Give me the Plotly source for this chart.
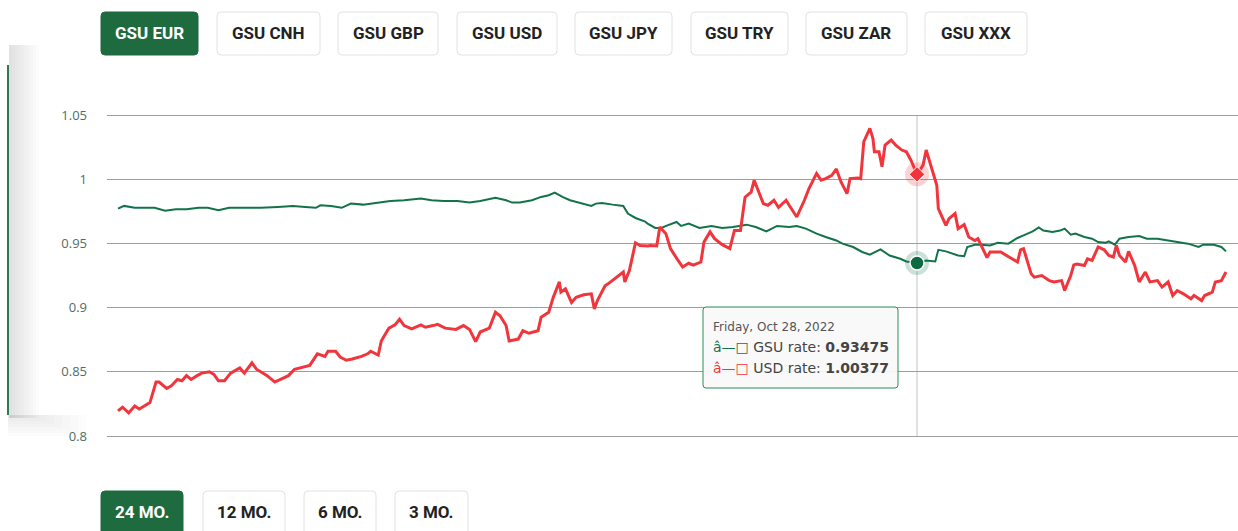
import plotly.graph_objects as go

# ---------------- data ----------------
usd_dates = [
    "2021-05-21", "2021-05-24", "2021-05-28", "2021-06-01", "2021-06-04", "2021-06-09", "2021-06-11", "2021-06-15", "2021-06-17", "2021-06-22",
    "2021-06-25", "2021-06-29", "2021-07-02", "2021-07-05", "2021-07-08", "2021-07-12", "2021-07-15", "2021-07-20", "2021-07-23", "2021-07-26",
    "2021-07-30", "2021-08-03", "2021-08-09", "2021-08-12", "2021-08-17", "2021-08-20", "2021-08-27", "2021-09-01", "2021-09-06", "2021-09-10",
    "2021-09-14", "2021-09-20", "2021-09-24", "2021-09-29", "2021-10-04", "2021-10-06", "2021-10-11", "2021-10-14", "2021-10-18", "2021-10-22",
    "2021-10-28", "2021-11-01", "2021-11-03", "2021-11-08", "2021-11-10", "2021-11-12", "2021-11-15", "2021-11-19", "2021-11-22", "2021-11-25",
    "2021-11-30", "2021-12-06", "2021-12-09", "2021-12-14", "2021-12-17", "2021-12-22", "2021-12-29", "2022-01-03", "2022-01-07", "2022-01-11",
    "2022-01-14", "2022-01-20", "2022-01-24", "2022-01-27", "2022-01-31", "2022-02-02", "2022-02-08", "2022-02-11", "2022-02-15", "2022-02-21",
    "2022-02-23", "2022-02-28", "2022-03-03", "2022-03-07", "2022-03-08", "2022-03-11", "2022-03-15", "2022-03-18", "2022-03-23", "2022-03-28",
    "2022-03-30", "2022-04-01", "2022-04-06", "2022-04-08", "2022-04-12", "2022-04-18", "2022-04-19", "2022-04-22", "2022-04-26", "2022-04-29",
    "2022-05-04", "2022-05-06", "2022-05-10", "2022-05-12", "2022-05-16", "2022-05-19", "2022-05-24", "2022-05-27", "2022-05-31", "2022-06-03",
    "2022-06-08", "2022-06-10", "2022-06-14", "2022-06-17", "2022-06-22", "2022-06-27", "2022-06-30", "2022-07-04", "2022-07-07", "2022-07-11",
    "2022-07-13", "2022-07-15", "2022-07-19", "2022-07-22", "2022-07-26", "2022-07-29", "2022-08-03", "2022-08-05", "2022-08-10", "2022-08-15",
    "2022-08-18", "2022-08-23", "2022-08-26", "2022-08-29", "2022-09-02", "2022-09-05", "2022-09-08", "2022-09-12", "2022-09-14", "2022-09-19",
    "2022-09-21", "2022-09-23", "2022-09-27", "2022-09-29", "2022-09-30", "2022-10-03", "2022-10-05", "2022-10-07", "2022-10-11", "2022-10-14",
    "2022-10-18", "2022-10-21", "2022-10-24", "2022-10-28", "2022-11-01", "2022-11-03", "2022-11-07", "2022-11-10", "2022-11-11", "2022-11-16",
    "2022-11-18", "2022-11-22", "2022-11-24", "2022-11-28", "2022-12-01", "2022-12-05", "2022-12-07", "2022-12-09", "2022-12-13", "2022-12-15",
    "2022-12-22", "2022-12-28", "2023-01-02", "2023-01-04", "2023-01-06", "2023-01-11", "2023-01-13", "2023-01-18", "2023-01-23", "2023-01-26",
    "2023-01-31", "2023-02-02", "2023-02-06", "2023-02-08", "2023-02-10", "2023-02-15", "2023-02-17", "2023-02-20", "2023-02-24", "2023-02-28",
    "2023-03-03", "2023-03-06", "2023-03-08", "2023-03-10", "2023-03-14", "2023-03-16", "2023-03-20", "2023-03-23", "2023-03-27", "2023-03-30",
    "2023-04-04", "2023-04-07", "2023-04-11", "2023-04-14", "2023-04-17", "2023-04-21", "2023-04-26", "2023-04-28", "2023-05-03", "2023-05-05",
    "2023-05-10", "2023-05-12", "2023-05-16", "2023-05-19",
]
usd_rate = [
    0.8195, 0.8224, 0.818, 0.8234, 0.821, 0.825, 0.826, 0.842, 0.842, 0.837,
    0.839, 0.844, 0.843, 0.847, 0.844, 0.847, 0.849, 0.850, 0.848, 0.843,
    0.843, 0.849, 0.853, 0.849, 0.857, 0.852, 0.847, 0.842, 0.845, 0.847,
    0.852, 0.854, 0.855, 0.864, 0.862, 0.866, 0.866, 0.8615, 0.859, 0.860,
    0.862, 0.864, 0.866, 0.863, 0.874, 0.878, 0.884, 0.8865, 0.891, 0.886,
    0.8834, 0.8865, 0.8847, 0.886, 0.887, 0.884, 0.883, 0.886, 0.883, 0.8735,
    0.881, 0.884, 0.8964, 0.8937, 0.886, 0.874, 0.8755, 0.882, 0.880, 0.882,
    0.8925, 0.8964, 0.908, 0.920, 0.912, 0.9146, 0.904, 0.908, 0.910, 0.9107,
    0.899, 0.9055, 0.917, 0.9185, 0.9224, 0.9277, 0.920, 0.9289, 0.9505, 0.9484,
    0.948, 0.9484, 0.948, 0.9628, 0.9576, 0.9459, 0.9367, 0.9316, 0.9345, 0.933,
    0.9355, 0.951, 0.959, 0.9537, 0.949, 0.9459, 0.960, 0.960, 0.986, 0.990,
    0.9992, 0.9927, 0.981, 0.9797, 0.9836, 0.978, 0.9836, 0.9797, 0.9706, 0.9836,
    0.9927, 1.0045, 0.9992, 1.0005, 1.003, 1.008, 0.998, 0.9888, 1.0005, 1.001,
    1.0005, 1.029, 1.0396, 1.0318, 1.0214, 1.0214, 1.0097, 1.0266, 1.0305, 1.0266,
    1.0227, 1.0214, 1.0148, 1.00377, 1.011, 1.0227, 1.008, 0.9953, 0.977, 0.964,
    0.9693, 0.9732, 0.9615, 0.9647, 0.955, 0.9523, 0.9537, 0.949, 0.939, 0.9433,
    0.9433, 0.939, 0.9355, 0.945, 0.9459, 0.9263, 0.9237, 0.925, 0.921, 0.920,
    0.921, 0.9133, 0.925, 0.9333, 0.934, 0.9328, 0.938, 0.9367, 0.9472, 0.945,
    0.9406, 0.9394, 0.9484, 0.9406, 0.9355, 0.9438, 0.9328, 0.920, 0.9277, 0.920,
    0.921, 0.916, 0.920, 0.9094, 0.9133, 0.9107, 0.9068, 0.9094, 0.9055, 0.9094,
    0.912, 0.920, 0.921, 0.9277,
]

gsu_dates = [
    "2021-05-21", "2021-05-25", "2021-06-01", "2021-06-09", "2021-06-14", "2021-06-21", "2021-06-28", "2021-07-05", "2021-07-13", "2021-07-19",
    "2021-07-26", "2021-08-02", "2021-08-12", "2021-08-23", "2021-09-03", "2021-09-13", "2021-09-21", "2021-09-28", "2021-10-01", "2021-10-08",
    "2021-10-15", "2021-10-21", "2021-10-29", "2021-11-10", "2021-11-16", "2021-11-25", "2021-12-06", "2021-12-13", "2021-12-21", "2021-12-30",
    "2022-01-07", "2022-01-14", "2022-01-24", "2022-01-31", "2022-02-04", "2022-02-09", "2022-02-17", "2022-02-23", "2022-02-28", "2022-03-04",
    "2022-03-09", "2022-03-14", "2022-03-18", "2022-03-23", "2022-03-28", "2022-03-31", "2022-04-04", "2022-04-11", "2022-04-18", "2022-04-21",
    "2022-04-26", "2022-05-02", "2022-05-04", "2022-05-09", "2022-05-13", "2022-05-17", "2022-05-23", "2022-05-26", "2022-05-31", "2022-06-07",
    "2022-06-15", "2022-06-22", "2022-06-29", "2022-07-08", "2022-07-14", "2022-07-21", "2022-07-28", "2022-08-05", "2022-08-10", "2022-08-16",
    "2022-08-23", "2022-08-29", "2022-09-05", "2022-09-09", "2022-09-16", "2022-09-22", "2022-09-27", "2022-10-04", "2022-10-10", "2022-10-17",
    "2022-10-21", "2022-10-28", "2022-11-03", "2022-11-09", "2022-11-11", "2022-11-16", "2022-11-21", "2022-11-24", "2022-11-28", "2022-11-30",
    "2022-12-05", "2022-12-09", "2022-12-15", "2022-12-20", "2022-12-27", "2023-01-02", "2023-01-06", "2023-01-12", "2023-01-16", "2023-01-19",
    "2023-01-25", "2023-01-30", "2023-02-02", "2023-02-06", "2023-02-09", "2023-02-15", "2023-02-20", "2023-02-24", "2023-03-01", "2023-03-03",
    "2023-03-07", "2023-03-10", "2023-03-16", "2023-03-23", "2023-03-28", "2023-04-04", "2023-04-11", "2023-04-17", "2023-04-24", "2023-05-01",
    "2023-05-04", "2023-05-11", "2023-05-16", "2023-05-19",
]
gsu_rate = [
    0.9771, 0.9792, 0.9777, 0.978, 0.9777, 0.9755, 0.9766, 0.9766, 0.9777, 0.9777,
    0.9758, 0.9777, 0.9777, 0.9777, 0.9784, 0.9792, 0.9784, 0.9777, 0.9797, 0.9792,
    0.9777, 0.981, 0.9802, 0.9823, 0.9831, 0.9836, 0.985, 0.9836, 0.983, 0.983,
    0.9818, 0.983, 0.9855, 0.9836, 0.9818, 0.9818, 0.9836, 0.9862, 0.9875, 0.9896,
    0.9862, 0.9836, 0.9823, 0.981, 0.9792, 0.981, 0.9815, 0.9802, 0.9792, 0.9732,
    0.9698, 0.9672, 0.9654, 0.962, 0.962, 0.964, 0.9667, 0.9636, 0.9654, 0.962,
    0.9636, 0.962, 0.9628, 0.9646, 0.9628, 0.9594, 0.9636, 0.9628, 0.9636, 0.9615,
    0.9576, 0.955, 0.9523, 0.9498, 0.9472, 0.9433, 0.9412, 0.9453, 0.9406, 0.938,
    0.9359, 0.93475, 0.9367, 0.936, 0.945, 0.9438, 0.942, 0.9406, 0.94, 0.9472,
    0.949, 0.949, 0.9484, 0.9505, 0.9498, 0.9542, 0.9563, 0.9594, 0.9625, 0.960,
    0.9589, 0.960, 0.9615, 0.9568, 0.9576, 0.955, 0.9537, 0.951, 0.9505, 0.9516,
    0.949, 0.9537, 0.955, 0.9558, 0.9537, 0.9537, 0.9523, 0.951, 0.9498, 0.9472,
    0.949, 0.949, 0.9472, 0.9438,
]

y_ticks = [0.8, 0.85, 0.9, 0.95, 1.0, 1.05]
y_tick_text = ["0.8", "0.85", "0.9", "0.95", "1", "1.05"]

currency_buttons = ["GSU EUR", "GSU CNH", "GSU GBP", "GSU USD", "GSU JPY", "GSU TRY", "GSU ZAR", "GSU XXX"]
period_buttons = ["24 MO.", "12 MO.", "6 MO.", "3 MO."]

hover_date = "2022-10-28"
hover_label = "Friday, Oct 28, 2022"

# ---------------- layout helpers (pixel -> paper) ----------------
W, H = 1238, 531
ML, MR, MT, MB = 107, 0, 111, 91
PW, PH = W - ML - MR, H - MT - MB
Y_PAD = (PH / 1284.0 - 0.25) / 2  # padding so edge gridlines stay visible


def px(x):
    return (x - ML) / PW


def py(y):
    return (H - MB - y) / PH


def rounded_rect(x0, y0, x1, y1, r=4):
    rx, ry = r / PW, r / PH
    a0, a1 = px(x0), px(x1)
    b0, b1 = py(y0), py(y1)
    return (f"M {a0+rx},{b0} L {a1-rx},{b0} Q {a1},{b0} {a1},{b0-ry} "
            f"L {a1},{b1+ry} Q {a1},{b1} {a1-rx},{b1} L {a0+rx},{b1} "
            f"Q {a0},{b1} {a0},{b1+ry} L {a0},{b0-ry} Q {a0},{b0} {a0+rx},{b0} Z")


GREEN_LINE = "#12734a"
RED_LINE = "#f0353c"
BTN_GREEN = "#1f6b40"

fig = go.Figure()

fig.add_trace(go.Scatter(x=gsu_dates, y=gsu_rate, mode="lines",
                         line=dict(color=GREEN_LINE, width=2), name="GSU rate",
                         hoverinfo="skip"))
fig.add_trace(go.Scatter(x=usd_dates, y=usd_rate, mode="lines",
                         line=dict(color=RED_LINE, width=3), name="USD rate",
                         hoverinfo="skip"))

gsu_h = gsu_rate[gsu_dates.index(hover_date)]
usd_h = usd_rate[usd_dates.index(hover_date)]

fig.add_trace(go.Scatter(x=[hover_date], y=[gsu_h], mode="markers",
                         marker=dict(size=24, color="rgba(18,115,74,0.22)"), hoverinfo="skip"))
fig.add_trace(go.Scatter(x=[hover_date], y=[gsu_h], mode="markers",
                         marker=dict(size=14, color="#0c6a43", line=dict(color="white", width=1.5)),
                         hoverinfo="skip"))
fig.add_trace(go.Scatter(x=[hover_date], y=[usd_h], mode="markers",
                         marker=dict(size=24, color="rgba(240,53,60,0.22)"), hoverinfo="skip"))
fig.add_trace(go.Scatter(x=[hover_date], y=[usd_h], mode="markers",
                         marker=dict(size=12, symbol="diamond", color="#f0353c",
                                     line=dict(color="white", width=1)),
                         hoverinfo="skip"))

shapes = []
annotations = []

shapes.append(dict(type="line", xref="x", yref="paper", x0=hover_date, x1=hover_date,
                   y0=py(436), y1=py(115), line=dict(color="#c4c4c4", width=1), layer="below"))

# card shadow + green left border
for i in range(1, 11):
    shapes.append(dict(type="rect", xref="paper", yref="paper", x0=px(9), x1=px(9 + 3 * i),
                       y0=py(418), y1=py(45), line=dict(width=0),
                       fillcolor="rgba(0,0,0,0.013)", layer="below"))
for i in range(1, 8):
    shapes.append(dict(type="rect", xref="paper", yref="paper", x0=px(8), x1=px(30 + 8 * i),
                       y0=py(415 + 3 * i), y1=py(415), line=dict(width=0),
                       fillcolor="rgba(0,0,0,0.012)", layer="below"))
shapes.append(dict(type="line", xref="paper", yref="paper", x0=px(8), x1=px(8),
                   y0=py(415), y1=py(65), line=dict(color="#2d7a52", width=2)))

# currency buttons
cur_boxes = [(101, 198), (217, 320), (338, 438), (457, 557), (575, 672), (691, 788), (806, 907), (925, 1027)]
for i, (label, (x0, x1)) in enumerate(zip(currency_buttons, cur_boxes)):
    sel = i == 0
    shapes.append(dict(type="path", xref="paper", yref="paper", path=rounded_rect(x0, 12, x1, 55),
                       fillcolor=BTN_GREEN if sel else "white",
                       line=dict(color=BTN_GREEN if sel else "#e2e2e2", width=1)))
    annotations.append(dict(xref="paper", yref="paper", x=px((x0 + x1) / 2), y=py(33.5),
                            text=f"<b>{label}</b>", showarrow=False, xanchor="center", yanchor="middle",
                            font=dict(family="Roboto", size=17, color="white" if sel else "#222222")))

# period buttons
per_boxes = [(101, 183), (203, 285), (304, 376), (395, 468)]
for i, (label, (x0, x1)) in enumerate(zip(period_buttons, per_boxes)):
    sel = i == 0
    shapes.append(dict(type="path", xref="paper", yref="paper", path=rounded_rect(x0, 491, x1, 545),
                       fillcolor=BTN_GREEN if sel else "white",
                       line=dict(color=BTN_GREEN if sel else "#e2e2e2", width=1)))
    annotations.append(dict(xref="paper", yref="paper", x=px((x0 + x1) / 2), y=py(512),
                            text=f"<b>{label}</b>", showarrow=False, xanchor="center", yanchor="middle",
                            font=dict(family="Roboto", size=17, color="white" if sel else "#222222")))

# tooltip
shapes.append(dict(type="path", xref="paper", yref="paper", path=rounded_rect(703, 307, 898, 388, r=3),
                   fillcolor="rgba(249,249,249,0.92)", line=dict(color="#2e8a5c", width=1)))
annotations.append(dict(xref="paper", yref="paper", x=px(711), y=py(327), text=hover_label,
                        showarrow=False, xanchor="left", yanchor="middle",
                        font=dict(family="DejaVu Sans", size=12, color="#555555")))
annotations.append(dict(xref="paper", yref="paper", x=px(711), y=py(347),
                        text=f"<span style='color:{GREEN_LINE}'>â—□</span> GSU rate: <b>{gsu_h:.5f}</b>",
                        showarrow=False, xanchor="left", yanchor="middle",
                        font=dict(family="DejaVu Sans", size=14, color="#444444")))
annotations.append(dict(xref="paper", yref="paper", x=px(711), y=py(368),
                        text=f"<span style='color:{RED_LINE}'>â—□</span> USD rate: <b>{usd_h:.5f}</b>",
                        showarrow=False, xanchor="left", yanchor="middle",
                        font=dict(family="DejaVu Sans", size=14, color="#444444")))

fig.update_layout(
    width=W, height=H,
    margin=dict(l=ML, r=MR, t=MT, b=MB),
    paper_bgcolor="white", plot_bgcolor="white",
    showlegend=False,
    shapes=shapes, annotations=annotations,
    xaxis=dict(range=["2021-05-13 18:30", "2023-05-26 21:30"], showgrid=False, zeroline=False,
               showticklabels=False, showline=False, fixedrange=True),
    yaxis=dict(range=[0.8 - Y_PAD, 1.05 + Y_PAD], tickvals=y_ticks, ticktext=y_tick_text,
               showgrid=True, gridcolor="#9e9e9e", gridwidth=1, zeroline=False, showline=False,
               ticklabelstandoff=19,
               tickfont=dict(family="Open Sans", size=13, color="#4d6e66"), fixedrange=True),
    hovermode=False,
)

fig.write_html("out.html", config={"displayModeBar": False},
               post_script="document.body.style.margin='0';")
